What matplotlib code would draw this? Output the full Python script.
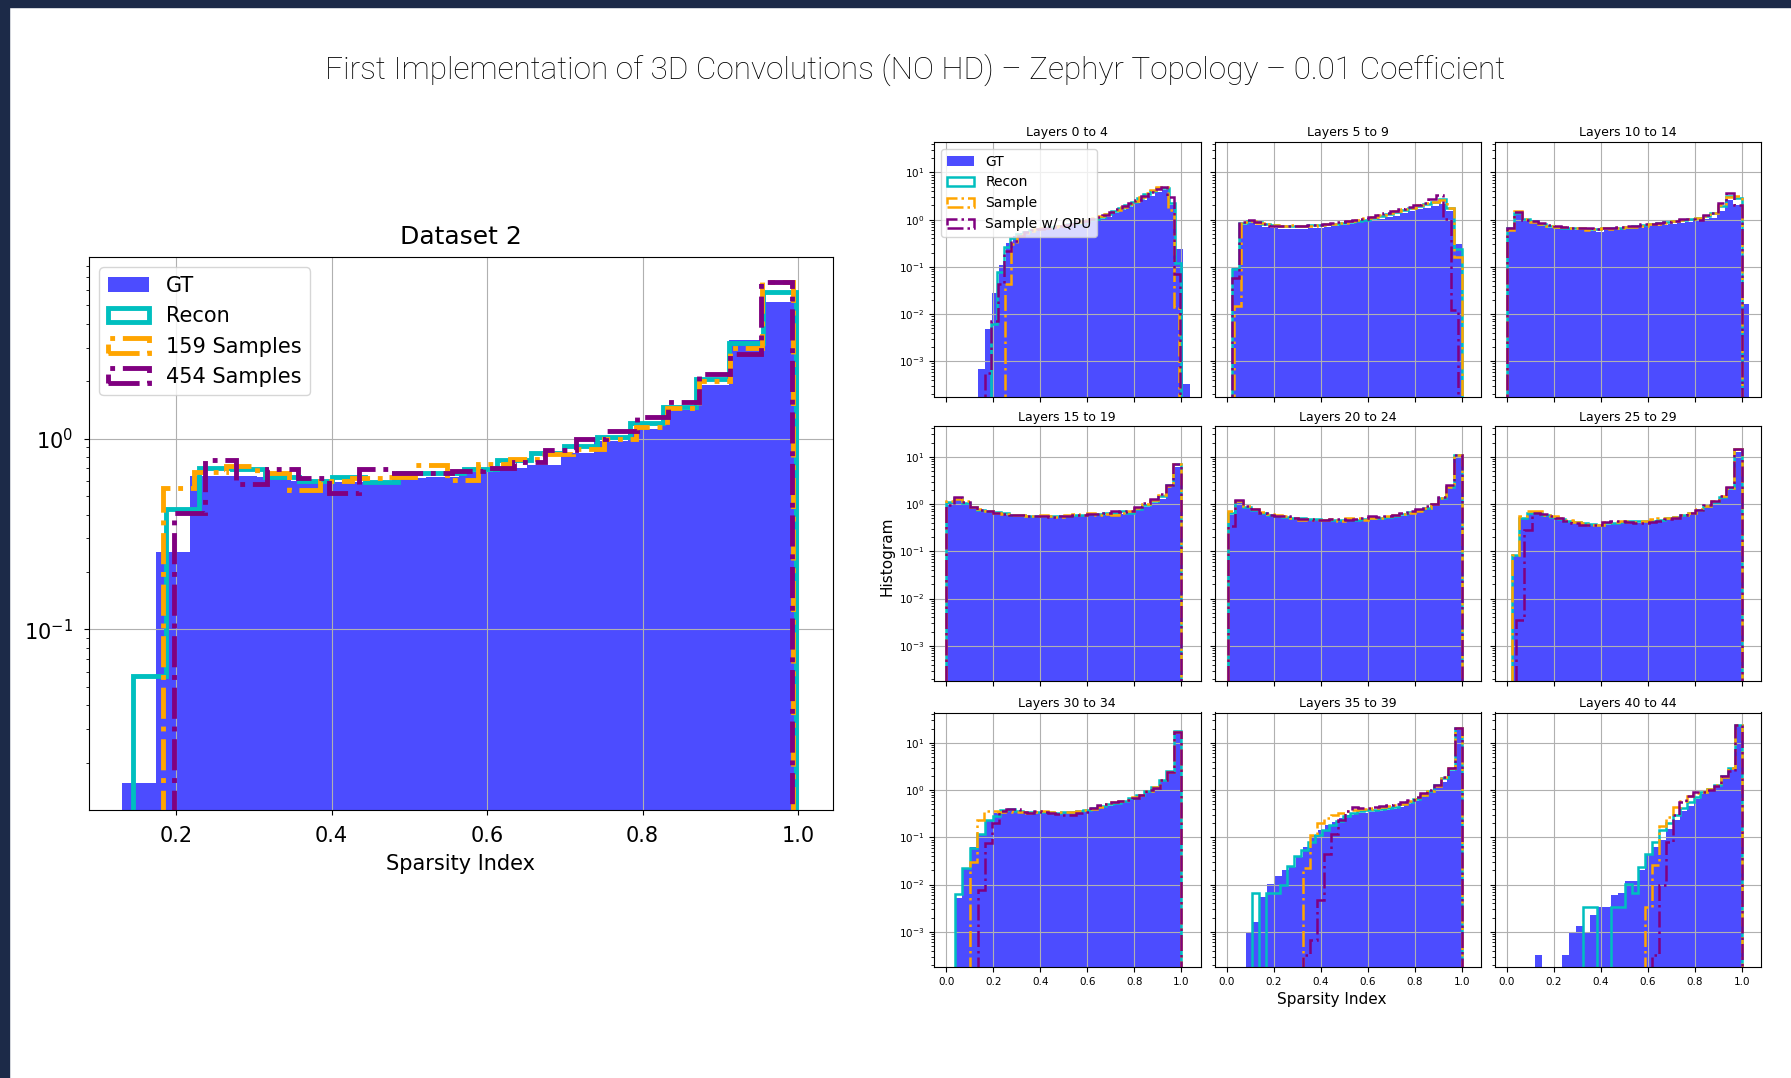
import numpy as np
import matplotlib
matplotlib.use('Agg')
import matplotlib.pyplot as plt
from matplotlib.patches import Rectangle

###########################################################
# Densities per bin (sparsity index histograms)
# each *_SPAN is the (min, max) sparsity index of that series,
# the bins split it evenly
###########################################################

# Dataset 2
DS2_GT_SPAN = (0.131, 0.998)
DS2_GT = [0.0156, 0.254, 0.64, 0.64, 0.63, 0.60, 0.59, 0.59, 0.62, 0.63,
          0.67, 0.70, 0.73, 0.84, 0.97, 1.13, 1.41, 1.92, 3.3, 5.2]
DS2_RECON_SPAN = (0.1445, 0.997)
DS2_RECON = [0.057, 0.43, 0.70, 0.69, 0.63, 0.60, 0.63, 0.59, 0.66, 0.66,
             0.69, 0.77, 0.84, 0.91, 1.02, 1.21, 1.47, 2.05, 3.17, 5.9]
DS2_S159_SPAN = (0.183, 0.994)
DS2_S159 = [0.55, 0.67, 0.72, 0.66, 0.54, 0.60, 0.62, 0.63, 0.73, 0.61,
            0.74, 0.78, 0.83, 0.88, 1.0, 1.15, 1.45, 2.0, 3.0, 6.6]
DS2_S454_SPAN = (0.1975, 0.992)
DS2_S454 = [0.41, 0.77, 0.58, 0.69, 0.62, 0.52, 0.69, 0.66, 0.66, 0.68,
            0.70, 0.75, 0.87, 1.0, 1.1, 1.3, 1.55, 2.17, 2.78, 6.6]

# Layers 0 to 4
L00_GT_SPAN = (0.136, 1.036)
L00_GT = [6.8e-4, 4.8e-3, 0.028, 0.11, 0.32, 0.45, 0.52, 0.58, 0.62, 0.66,
          0.68, 0.71, 0.74, 0.78, 0.83, 0.88, 0.95, 1.02, 1.15, 1.35,
          1.6, 1.85, 2.2, 2.6, 3.2, 3.9, 4.3, 2.0, 0.24, 3.3e-4]
L00_RECON_SPAN = (0.19, 1.0)
L00_RECON = [0.0063, 0.078, 0.26, 0.40, 0.50, 0.56, 0.61, 0.64, 0.67, 0.69,
             0.72, 0.75, 0.79, 0.84, 0.90, 0.97, 1.05, 1.15, 1.3, 1.5,
             1.75, 2.0, 2.4, 2.9, 3.5, 4.1, 4.7, 4.6, 2.2, 0.12]
L00_SAMPLE_SPAN = (0.251, 0.992)
L00_SAMPLE = [0.044, 0.31, 0.45, 0.53, 0.58, 0.62, 0.65, 0.68, 0.71, 0.74,
              0.78, 0.82, 0.87, 0.93, 1.0, 1.08, 1.18, 1.3, 1.45, 1.62,
              1.85, 2.1, 2.5, 3.0, 3.6, 4.2, 4.8, 4.9, 1.6, 0.014]
L00_QPU_SPAN = (0.165, 0.996)
L00_QPU = [5.6e-4, 0.007, 0.044, 0.22, 0.36, 0.46, 0.54, 0.60, 0.64, 0.67,
           0.70, 0.73, 0.77, 0.82, 0.88, 0.95, 1.03, 1.12, 1.25, 1.42,
           1.65, 1.9, 2.2, 2.65, 3.2, 3.8, 4.5, 4.8, 3.0, 0.07]

# Layers 5 to 9
L05_GT_SPAN = (0.021, 1.0)
L05_GT = [0.095, 0.78, 0.84, 0.76, 0.70, 0.66, 0.64, 0.63, 0.62, 0.63,
          0.65, 0.67, 0.69, 0.72, 0.76, 0.82, 0.88, 0.95, 1.0, 1.05,
          1.12, 1.2, 1.35, 1.5, 1.65, 1.8, 1.95, 2.1, 1.55, 0.3]
L05_RECON_SPAN = (0.021, 1.0)
L05_RECON = [0.092, 0.85, 0.95, 0.88, 0.80, 0.76, 0.74, 0.72, 0.72, 0.74,
             0.76, 0.78, 0.80, 0.82, 0.85, 0.90, 0.95, 1.0, 1.08, 1.18,
             1.3, 1.45, 1.6, 1.75, 1.9, 2.1, 2.4, 2.8, 1.8, 0.24]
L05_SAMPLE_SPAN = (0.03, 1.0)
L05_SAMPLE = [0.015, 0.88, 0.95, 0.86, 0.80, 0.77, 0.75, 0.76, 0.74, 0.73,
              0.75, 0.78, 0.80, 0.82, 0.86, 0.92, 1.0, 1.06, 1.12, 1.25,
              1.38, 1.5, 1.65, 1.8, 2.0, 2.2, 2.4, 2.6, 1.8, 0.16]
L05_QPU_SPAN = (0.021, 0.985)
L05_QPU = [0.057, 0.90, 0.97, 0.90, 0.82, 0.75, 0.72, 0.74, 0.72, 0.73,
           0.76, 0.78, 0.80, 0.84, 0.88, 0.92, 0.97, 1.05, 1.13, 1.25,
           1.35, 1.5, 1.7, 1.85, 2.0, 2.3, 2.7, 3.4, 1.05, 0.012]

# Layers 10 to 14
L10_GT_SPAN = (0.0, 1.032)
L10_GT = [0.60, 1.3, 1.0, 0.85, 0.75, 0.68, 0.62, 0.62, 0.60, 0.60,
          0.58, 0.55, 0.60, 0.60, 0.63, 0.66, 0.68, 0.72, 0.75, 0.78,
          0.82, 0.85, 0.90, 1.0, 1.05, 1.1, 1.5, 2.6, 2.0, 0.016]
L10_RECON_SPAN = (0.0, 1.0)
L10_RECON = [0.65, 1.4, 1.05, 0.92, 0.82, 0.75, 0.70, 0.68, 0.66, 0.65,
             0.64, 0.62, 0.65, 0.66, 0.68, 0.70, 0.72, 0.76, 0.80, 0.84,
             0.88, 0.92, 0.98, 1.05, 1.1, 1.2, 1.35, 1.9, 3.1, 2.9]
L10_SAMPLE_SPAN = (0.0, 1.0)
L10_SAMPLE = [0.60, 1.5, 1.05, 0.90, 0.80, 0.72, 0.70, 0.70, 0.66, 0.66,
              0.60, 0.62, 0.66, 0.64, 0.68, 0.70, 0.70, 0.74, 0.82, 0.80,
              0.86, 0.95, 1.0, 1.02, 1.1, 1.2, 1.35, 2.0, 3.0, 3.2]
L10_QPU_SPAN = (0.0, 1.0)
L10_QPU = [0.68, 1.45, 1.0, 0.95, 0.85, 0.78, 0.72, 0.70, 0.68, 0.68,
           0.66, 0.64, 0.66, 0.66, 0.70, 0.72, 0.75, 0.80, 0.82, 0.85,
           0.90, 0.95, 1.02, 1.05, 1.0, 1.25, 1.4, 2.2, 3.6, 2.0]

# Layers 15 to 19
L15_GT_SPAN = (0.0, 1.0)
L15_GT = [1.05, 1.3, 1.0, 0.78, 0.70, 0.68, 0.65, 0.60, 0.58, 0.55,
          0.55, 0.53, 0.52, 0.53, 0.53, 0.54, 0.55, 0.57, 0.58, 0.58,
          0.58, 0.60, 0.62, 0.62, 0.75, 0.88, 1.05, 1.3, 2.3, 6.0]
L15_RECON_SPAN = (0.0, 1.0)
L15_RECON = [1.1, 1.35, 1.05, 0.85, 0.76, 0.70, 0.68, 0.64, 0.60, 0.58,
             0.56, 0.55, 0.55, 0.56, 0.55, 0.56, 0.58, 0.60, 0.61, 0.62,
             0.64, 0.66, 0.70, 0.64, 0.80, 0.95, 1.15, 1.5, 2.5, 7.0]
L15_SAMPLE_SPAN = (0.0, 1.0)
L15_SAMPLE = [1.15, 1.3, 1.15, 0.85, 0.78, 0.70, 0.66, 0.62, 0.58, 0.60,
              0.56, 0.55, 0.58, 0.56, 0.54, 0.58, 0.62, 0.60, 0.64, 0.60,
              0.62, 0.58, 0.66, 0.70, 0.82, 1.0, 1.2, 1.55, 2.4, 7.2]
L15_QPU_SPAN = (0.0, 1.0)
L15_QPU = [0.95, 1.45, 1.1, 0.88, 0.75, 0.70, 0.66, 0.62, 0.60, 0.58,
           0.55, 0.56, 0.56, 0.54, 0.56, 0.56, 0.58, 0.60, 0.62, 0.62,
           0.64, 0.70, 0.68, 0.72, 0.85, 1.05, 1.3, 1.6, 2.6, 7.2]

# Layers 20 to 24
L20_GT_SPAN = (0.0, 1.0)
L20_GT = [0.6, 1.05, 0.85, 0.72, 0.62, 0.56, 0.53, 0.52, 0.50, 0.48,
          0.47, 0.46, 0.45, 0.44, 0.44, 0.44, 0.45, 0.46, 0.47, 0.48,
          0.50, 0.53, 0.57, 0.62, 0.68, 0.78, 0.92, 1.3, 2.3, 10.0]
L20_RECON_SPAN = (0.004, 1.0)
L20_RECON = [0.66, 1.15, 0.88, 0.75, 0.64, 0.58, 0.55, 0.54, 0.52, 0.50,
             0.49, 0.48, 0.47, 0.46, 0.46, 0.46, 0.47, 0.48, 0.50, 0.51,
             0.53, 0.57, 0.62, 0.68, 0.74, 0.82, 1.0, 1.35, 2.3, 10.8]
L20_SAMPLE_SPAN = (0.004, 1.0)
L20_SAMPLE = [0.72, 1.15, 0.90, 0.78, 0.68, 0.62, 0.58, 0.55, 0.50, 0.47,
              0.48, 0.47, 0.46, 0.48, 0.45, 0.50, 0.52, 0.47, 0.50, 0.52,
              0.55, 0.58, 0.63, 0.66, 0.72, 0.82, 1.0, 1.35, 2.3, 10.8]
L20_QPU_SPAN = (0.004, 1.0)
L20_QPU = [0.34, 1.2, 0.92, 0.78, 0.65, 0.58, 0.56, 0.55, 0.50, 0.49,
           0.48, 0.46, 0.46, 0.48, 0.49, 0.47, 0.48, 0.52, 0.55, 0.54,
           0.57, 0.60, 0.66, 0.72, 0.80, 0.90, 1.0, 1.4, 2.6, 10.8]

# Layers 25 to 29
L25_GT_SPAN = (0.021, 1.0)
L25_GT = [0.084, 0.48, 0.62, 0.62, 0.58, 0.52, 0.47, 0.44, 0.40, 0.38,
          0.36, 0.35, 0.37, 0.38, 0.39, 0.40, 0.40, 0.41, 0.42, 0.44,
          0.47, 0.50, 0.55, 0.60, 0.68, 0.85, 1.05, 1.35, 2.0, 13.0]
L25_RECON_SPAN = (0.021, 1.0)
L25_RECON = [0.084, 0.52, 0.66, 0.64, 0.58, 0.53, 0.49, 0.45, 0.42, 0.40,
             0.38, 0.37, 0.39, 0.40, 0.42, 0.43, 0.43, 0.44, 0.45, 0.46,
             0.50, 0.53, 0.58, 0.64, 0.74, 0.90, 1.1, 1.45, 2.2, 14.5]
L25_SAMPLE_SPAN = (0.021, 1.0)
L25_SAMPLE = [0.084, 0.55, 0.72, 0.70, 0.60, 0.55, 0.50, 0.46, 0.42, 0.39,
              0.37, 0.36, 0.41, 0.42, 0.43, 0.42, 0.41, 0.43, 0.48, 0.50,
              0.52, 0.54, 0.58, 0.66, 0.80, 0.92, 1.15, 1.5, 2.2, 14.5]
L25_QPU_SPAN = (0.042, 1.0)
L25_QPU = [0.0036, 0.28, 0.65, 0.62, 0.55, 0.50, 0.45, 0.40, 0.37, 0.36,
           0.37, 0.42, 0.44, 0.43, 0.42, 0.40, 0.40, 0.42, 0.44, 0.48,
           0.52, 0.58, 0.66, 0.75, 0.95, 1.15, 1.5, 2.3, 14.5]

# Layers 30 to 34
L30_GT_SPAN = (0.037, 1.0)
L30_GT = [0.0053, 0.022, 0.063, 0.11, 0.23, 0.32, 0.36, 0.36, 0.34, 0.33,
          0.33, 0.32, 0.32, 0.32, 0.32, 0.33, 0.34, 0.36, 0.40, 0.43,
          0.47, 0.52, 0.58, 0.65, 0.75, 0.9, 1.1, 1.6, 2.5, 17.0]
L30_RECON_SPAN = (0.037, 1.0)
L30_RECON = [0.0062, 0.022, 0.06, 0.12, 0.23, 0.29, 0.38, 0.40, 0.36, 0.34,
             0.34, 0.35, 0.34, 0.33, 0.34, 0.35, 0.36, 0.38, 0.42, 0.46,
             0.50, 0.54, 0.60, 0.68, 0.78, 0.95, 1.15, 1.6, 2.5, 17.5]
L30_SAMPLE_SPAN = (0.102, 1.0)
L30_SAMPLE = [0.03, 0.23, 0.37, 0.37, 0.35, 0.36, 0.35, 0.34, 0.33, 0.35,
              0.36, 0.34, 0.35, 0.34, 0.35, 0.36, 0.38, 0.40, 0.45, 0.50,
              0.55, 0.58, 0.62, 0.70, 0.80, 0.95, 1.15, 1.6, 2.4, 17.0]
L30_QPU_SPAN = (0.136, 1.0)
L30_QPU = [0.0076, 0.075, 0.2, 0.36, 0.40, 0.40, 0.34, 0.33, 0.36, 0.34,
           0.32, 0.31, 0.30, 0.30, 0.32, 0.35, 0.42, 0.48, 0.52, 0.55,
           0.58, 0.62, 0.68, 0.8, 1.0, 1.1, 1.6, 2.4, 17.0]

# Layers 35 to 39
L35_GT_SPAN = (0.081, 1.0)
L35_GT = [0.001, 0.0016, 0.0055, 0.0105, 0.015, 0.02, 0.024, 0.038, 0.063, 0.11,
          0.14, 0.18, 0.21, 0.26, 0.30, 0.32, 0.33, 0.34, 0.36, 0.38,
          0.40, 0.44, 0.50, 0.58, 0.70, 0.90, 1.2, 1.5, 2.5, 21.0]
L35_RECON_SPAN = (0.11, 1.0)
L35_RECON = [0.0065, 0.0, 0.0065, 0.0065, 0.0098, 0.025, 0.04, 0.053, 0.08, 0.11,
             0.14, 0.18, 0.22, 0.28, 0.33, 0.36, 0.38, 0.38, 0.40, 0.42,
             0.45, 0.50, 0.56, 0.65, 0.78, 0.95, 1.3, 1.8, 2.8, 21.0]
L35_SAMPLE_SPAN = (0.326, 1.0)
L35_SAMPLE = [0.022, 0.11, 0.2, 0.26, 0.30, 0.33, 0.36, 0.38, 0.40, 0.40,
              0.42, 0.44, 0.46, 0.48, 0.52, 0.58, 0.65, 0.78, 0.95, 1.2,
              1.9, 3.0, 21.0]
L35_QPU_SPAN = (0.326, 1.0)
L35_QPU = [3.2e-4, 6.8e-4, 0.0047, 0.045, 0.12, 0.23, 0.37, 0.44, 0.42, 0.42,
           0.44, 0.46, 0.48, 0.50, 0.55, 0.62, 0.70, 0.85, 1.0, 1.3,
           1.9, 3.0, 21.0]

# Layers 40 to 44
L40_GT_SPAN = (0.12, 1.0)
L40_GT = [3.2e-4, 0.0, 0.0, 0.0, 3.2e-4, 9.7e-4, 0.0013, 0.001, 0.0023, 0.0033,
          0.0033, 0.006, 0.0065, 0.012, 0.012, 0.02, 0.042, 0.063, 0.086, 0.15,
          0.23, 0.37, 0.47, 0.66, 0.84, 1.0, 1.25, 1.9, 2.8, 24.0]
L40_RECON_SPAN = (0.326, 1.0)
L40_RECON = [0.0033, 0.0033, 0.0, 0.0, 0.0033, 0.0033, 0.0105, 0.0067, 0.024, 0.045,
             0.08, 0.14, 0.2, 0.3, 0.42, 0.55, 0.72, 0.9, 1.05, 1.3,
             2.0, 2.9, 24.0]
L40_SAMPLE_SPAN = (0.589, 1.0)
L40_SAMPLE = [0.0033, 0.026, 0.17, 0.27, 0.45, 0.6, 0.75, 0.85, 0.9, 1.05,
              1.3, 1.9, 3.0, 24.0]
L40_QPU_SPAN = (0.617, 1.0)
L40_QPU = [3.2e-4, 0.0098, 0.08, 0.3, 0.55, 0.75, 0.9, 0.92, 1.0, 1.25,
           2.0, 2.5, 24.0]

LAYER_TITLES = ['Layers 0 to 4', 'Layers 5 to 9', 'Layers 10 to 14',
                'Layers 15 to 19', 'Layers 20 to 24', 'Layers 25 to 29',
                'Layers 30 to 34', 'Layers 35 to 39', 'Layers 40 to 44']

LAYER_DATA = [
    (L00_GT, L00_GT_SPAN, L00_RECON, L00_RECON_SPAN, L00_SAMPLE, L00_SAMPLE_SPAN, L00_QPU, L00_QPU_SPAN),
    (L05_GT, L05_GT_SPAN, L05_RECON, L05_RECON_SPAN, L05_SAMPLE, L05_SAMPLE_SPAN, L05_QPU, L05_QPU_SPAN),
    (L10_GT, L10_GT_SPAN, L10_RECON, L10_RECON_SPAN, L10_SAMPLE, L10_SAMPLE_SPAN, L10_QPU, L10_QPU_SPAN),
    (L15_GT, L15_GT_SPAN, L15_RECON, L15_RECON_SPAN, L15_SAMPLE, L15_SAMPLE_SPAN, L15_QPU, L15_QPU_SPAN),
    (L20_GT, L20_GT_SPAN, L20_RECON, L20_RECON_SPAN, L20_SAMPLE, L20_SAMPLE_SPAN, L20_QPU, L20_QPU_SPAN),
    (L25_GT, L25_GT_SPAN, L25_RECON, L25_RECON_SPAN, L25_SAMPLE, L25_SAMPLE_SPAN, L25_QPU, L25_QPU_SPAN),
    (L30_GT, L30_GT_SPAN, L30_RECON, L30_RECON_SPAN, L30_SAMPLE, L30_SAMPLE_SPAN, L30_QPU, L30_QPU_SPAN),
    (L35_GT, L35_GT_SPAN, L35_RECON, L35_RECON_SPAN, L35_SAMPLE, L35_SAMPLE_SPAN, L35_QPU, L35_QPU_SPAN),
    (L40_GT, L40_GT_SPAN, L40_RECON, L40_RECON_SPAN, L40_SAMPLE, L40_SAMPLE_SPAN, L40_QPU, L40_QPU_SPAN),
]

###########################################################
# Helpers
###########################################################

W, H = 1791, 1078  # output size in pixels (dpi 100)


def axes_px(fig, left, top, right, bottom, **kw):
    # place an axes by its pixel box
    return fig.add_axes([left / W, 1 - bottom / H, (right - left) / W, (bottom - top) / H], **kw)


def binned_hist(ax, vals, span, **kw):
    # pre-binned densities drawn through ax.hist with weights
    edges = np.linspace(span[0], span[1], len(vals) + 1)
    centers = 0.5 * (edges[:-1] + edges[1:])
    return ax.hist(centers, bins=edges, weights=vals, **kw)


GT_STYLE = dict(histtype='stepfilled', color='blue', alpha=0.7)
RECON_STYLE = dict(histtype='step', color='c', linestyle='-')
SAMPLE_STYLE = dict(histtype='step', color='orange', linestyle='-.')
QPU_STYLE = dict(histtype='step', color='purple', linestyle='-.')

###########################################################
# Figure
###########################################################

fig = plt.figure(figsize=(W / 100, H / 100), dpi=100)

# slide frame (top and left bands)
fig.add_artist(Rectangle((0, 1 - 7 / H), 1, 7 / H, transform=fig.transFigure,
                         color='#1c2a48', zorder=0))
fig.add_artist(Rectangle((0, 0), 9 / W, 1, transform=fig.transFigure,
                         color='#1c2a48', zorder=0))

fig.text(915 / W, 1 - 70 / H,
         'First Implementation of 3D Convolutions (NO HD) \u2013 Zephyr Topology \u2013 0.01 Coefficient',
         ha='center', va='center', fontsize=22.7, color='black',
         family=['Roboto'], fontweight='light')

# ---- Dataset 2 ----
ax = axes_px(fig, 89, 257, 833, 810)
ax.set_yscale('log')
binned_hist(ax, DS2_GT, DS2_GT_SPAN, label='GT', **GT_STYLE)
binned_hist(ax, DS2_RECON, DS2_RECON_SPAN, label='Recon', linewidth=3.5, **RECON_STYLE)
binned_hist(ax, DS2_S159, DS2_S159_SPAN, label='159 Samples', linewidth=3.5, **SAMPLE_STYLE)
binned_hist(ax, DS2_S454, DS2_S454_SPAN, label='454 Samples', linewidth=3.5, **QPU_STYLE)
ax.set_xlim(0.088, 1.045)
ax.set_ylim(0.0113, 8.96)
ax.set_xticks([0.2, 0.4, 0.6, 0.8, 1.0])
ax.grid(True)
ax.tick_params(labelsize=15, pad=8)
ax.set_xlabel('Sparsity Index', fontsize=15, labelpad=6)
ax.set_title('Dataset 2', fontsize=18, pad=9)
ax.legend(loc='upper left', fontsize=15)

# ---- per layer grid ----
col_left = [934, 1214.5, 1494.5]
row_top = [142, 426.5, 712.5]
pw, ph = 266.5, 254.5

first = None
for i, (title, data) in enumerate(zip(LAYER_TITLES, LAYER_DATA)):
    r, c = divmod(i, 3)
    kw = {} if first is None else dict(sharex=first, sharey=first)
    a = axes_px(fig, col_left[c], row_top[r], col_left[c] + pw, row_top[r] + ph, **kw)
    if first is None:
        first = a
        a.set_yscale('log')
    gt, gt_s, rec, rec_s, smp, smp_s, qpu, qpu_s = data
    binned_hist(a, gt, gt_s, label='GT', **GT_STYLE)
    binned_hist(a, rec, rec_s, label='Recon', linewidth=1.8, **RECON_STYLE)
    binned_hist(a, smp, smp_s, label='Sample', linewidth=1.8, **SAMPLE_STYLE)
    binned_hist(a, qpu, qpu_s, label='Sample w/ QPU', linewidth=1.8, **QPU_STYLE)
    a.set_title(title, fontsize=9, pad=4)
    a.grid(True)
    a.tick_params(labelsize=7.5)
    if c > 0:
        a.tick_params(labelleft=False)
    if r < 2:
        a.tick_params(labelbottom=False)
    if i == 0:
        a.legend(loc='upper left', fontsize=10)
    if i == 3:
        a.set_ylabel('Histogram', fontsize=11)
        a.yaxis.set_label_coords(-0.148, 0.49)
    if i == 7:
        a.set_xlabel('Sparsity Index', fontsize=11)
        a.xaxis.set_label_coords(0.44, -0.098)

first.set_xlim(-0.0515, 1.0815)
first.set_ylim(1.8e-4, 44)
first.set_xticks([0.0, 0.2, 0.4, 0.6, 0.8, 1.0])

plt.savefig('out.png', dpi=100, facecolor='white')
